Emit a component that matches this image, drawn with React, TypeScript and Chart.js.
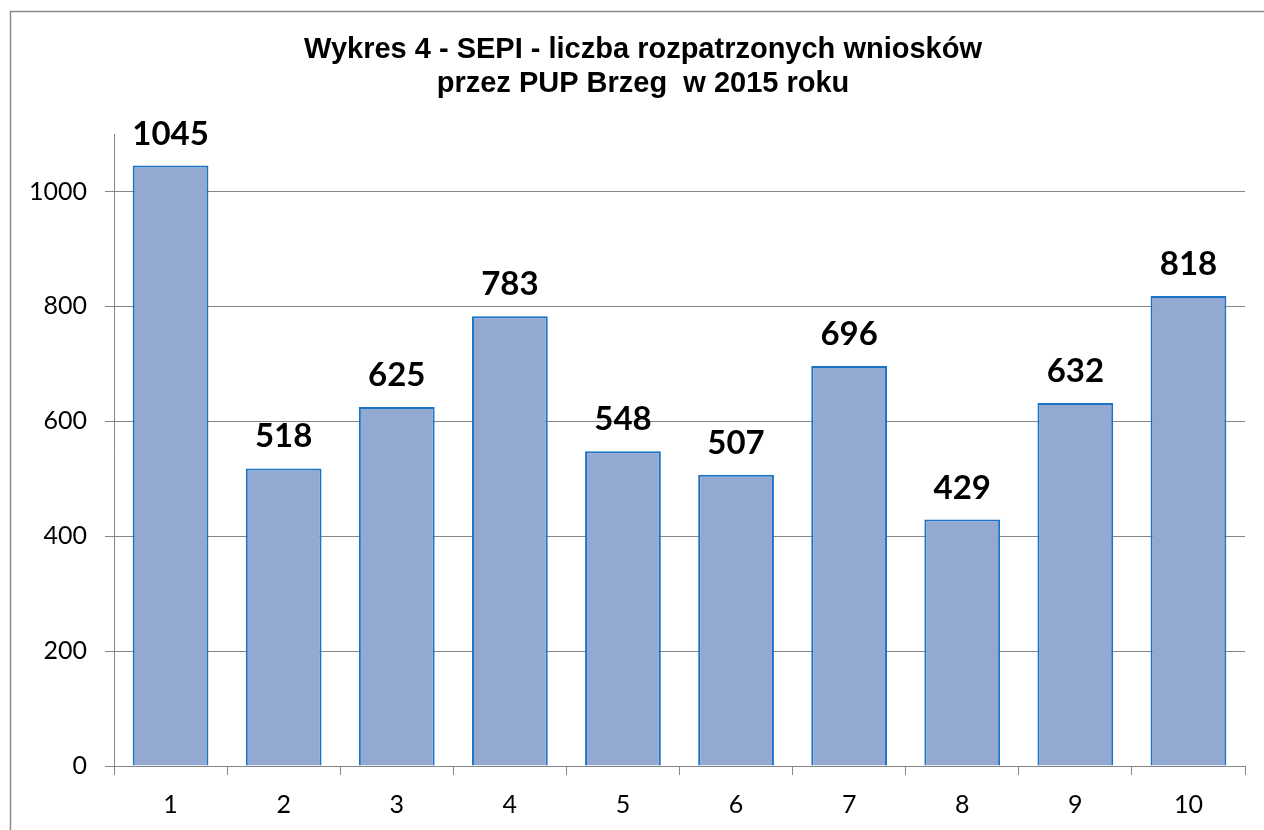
import React, { useEffect, useRef } from "react";
import { Chart, registerables } from "chart.js";

Chart.register(...registerables);

const categories = ["1", "2", "3", "4", "5", "6", "7", "8", "9", "10"];
const values = [1045, 518, 625, 783, 548, 507, 696, 429, 632, 818];
const titleLines = ["Wykres 4 - SEPI - liczba rozpatrzonych wniosków", "przez PUP Brzeg  w 2015 roku"];
const yMin = 0;
const yMax = 1100;
const yStep = 200;
const yLastTick = 1000;

const frameTitleLabels = {
  id: "frameTitleLabels",
  beforeDraw(chart: any) {
    const ctx = chart.ctx;
    ctx.save();
    ctx.fillStyle = "#ffffff";
    ctx.fillRect(0, 0, chart.width, chart.height);
    ctx.strokeStyle = "#8a8a8a";
    ctx.lineWidth = 1.5;
    ctx.strokeRect(10.5, 11.5, chart.width + 50, chart.height + 50);
    ctx.fillStyle = "#000000";
    ctx.font = "bold 29px 'Liberation Sans', Arial, sans-serif";
    ctx.textAlign = "center";
    ctx.textBaseline = "alphabetic";
    titleLines.forEach((line, i) => {
      ctx.fillText(line, 643, 58 + i * 34);
    });
    ctx.restore();
  },
  afterDatasetsDraw(chart: any) {
    const ctx = chart.ctx;
    const meta = chart.getDatasetMeta(0);
    const data = chart.data.datasets[0].data;
    ctx.save();
    ctx.fillStyle = "#000000";
    ctx.font = "bold 33px Lato";
    ctx.textAlign = "center";
    ctx.textBaseline = "alphabetic";
    meta.data.forEach((bar: any, i: number) => {
      ctx.fillText(String(data[i]), bar.x, bar.y - 21);
    });
    ctx.restore();
  },
};

export default function App() {
  const ref = useRef<HTMLCanvasElement | null>(null);
  useEffect(() => {
    if (!ref.current) return;
    const chart = new Chart(ref.current, {
      type: "bar",
      data: {
        labels: categories,
        datasets: [
          {
            data: values,
            backgroundColor: "#94A9D2",
            borderColor: "#1A73C5",
            borderWidth: 2,
            categoryPercentage: 1,
            barPercentage: 0.67,
          },
        ],
      },
      options: {
        animation: false,
        responsive: true,
        maintainAspectRatio: false,
        layout: { padding: { top: 134, left: 10, right: 19, bottom: 0 } },
        plugins: {
          legend: { display: false },
          tooltip: { enabled: false },
          title: { display: false },
        },
        scales: {
          x: {
            grid: { display: true, drawOnChartArea: false, drawTicks: true, tickLength: 9, color: "#868686", offset: true },
            border: { display: true, color: "#868686", width: 1 },
            ticks: { color: "#000000", font: { family: "Lato", size: 25 }, padding: 15, maxRotation: 0 },
            afterFit(scale: any) {
              scale.height = 64;
            },
          },
          y: {
            min: yMin,
            max: yMax,
            grid: { display: true, drawOnChartArea: true, drawTicks: true, tickLength: 9, color: "#868686" },
            border: { display: true, color: "#868686", width: 1 },
            ticks: {
              stepSize: yStep,
              color: "#000000",
              font: { family: "Lato", size: 25 },
              padding: 18,
              callback: (v: any) => String(v),
            },
            afterBuildTicks(scale: any) {
              scale.ticks = scale.ticks.filter((t: any) => t.value <= yLastTick);
            },
            afterFit(scale: any) {
              scale.width = 104;
            },
          },
        },
      },
      plugins: [frameTitleLabels],
    });
    return () => chart.destroy();
  }, []);
  return (
    <div style={{ position: "absolute", left: 0, top: 0, width: 1264, height: 830 }}>
      <canvas ref={ref} />
    </div>
  );
}
